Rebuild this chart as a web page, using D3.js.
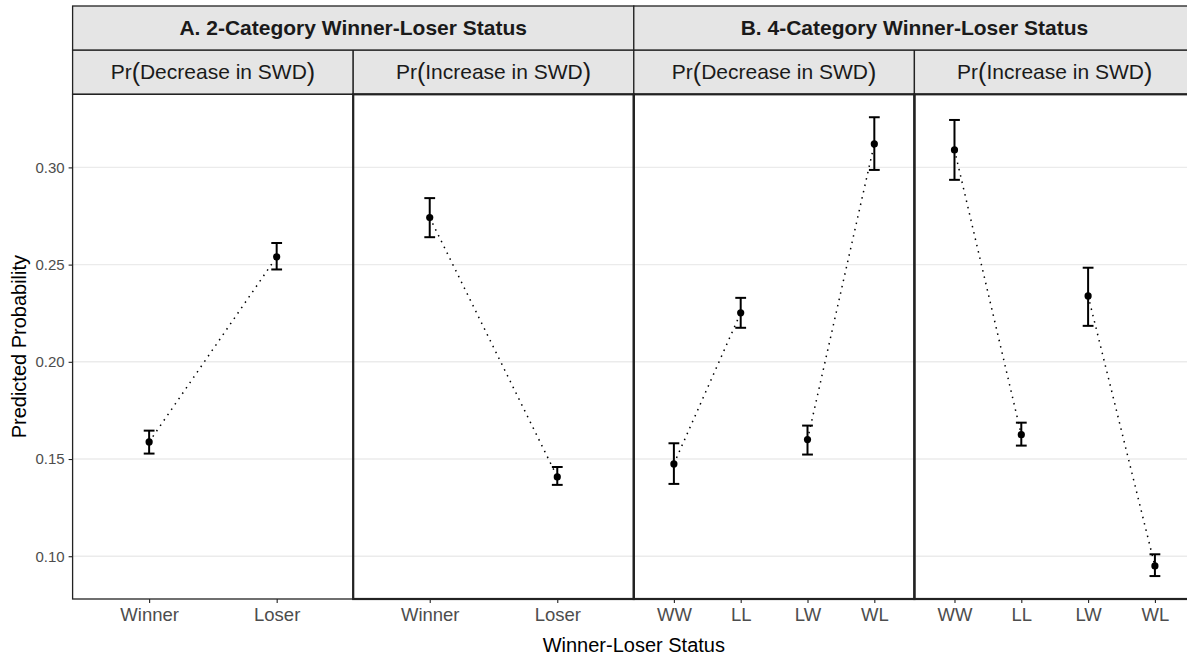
<!DOCTYPE html>
<html>
<head>
<meta charset="utf-8">
<script src="https://cdn.jsdelivr.net/npm/d3@7"></script>
<style>
  html, body { margin: 0; padding: 0; background: #fff; }
  svg { display: block; font-family: "Liberation Sans", Arial, Helvetica, sans-serif; }
</style>
</head>
<body>
<div id="host"><svg></svg></div>
<script>
const WIDTH = 1187;
const HEIGHT = 655;

const PANEL_LEFT = 72.6;
const PANEL_RIGHT = 1195;
const STRIP_TOP = 6;
const STRIP_MID = 50;
const PLOT_TOP = 94.3;
const PLOT_BOTTOM = 599;

const INK = "#222222";
const TEXT_GREY = "#4d4d4d";
const GRID = "#ebebeb";
const STRIP_FILL = "#e5e5e5";

// data
const PANELS = ["A-dec", "A-inc", "B-dec", "B-inc"];
const GROUPS = ["A. 2-Category Winner-Loser Status", "B. 4-Category Winner-Loser Status"];
const PANEL_GROUP = [0, 0, 1, 1];
const PANEL_LABELS = ["Decrease in SWD", "Increase in SWD", "Decrease in SWD", "Increase in SWD"];

const CATS_2 = ["Winner", "Loser"];
const CATS_4 = ["WW", "LL", "LW", "WL"];
const PANEL_CATS = [CATS_2, CATS_2, CATS_4, CATS_4];

const EST = [
  [0.1588, 0.2540],
  [0.2742, 0.1408],
  [0.1475, 0.2252, 0.1600, 0.3121],
  [0.3090, 0.1625, 0.2339, 0.0950],
];
const LOWER = [
  [0.1528, 0.2475],
  [0.2641, 0.1367],
  [0.1372, 0.2175, 0.1523, 0.2987],
  [0.2936, 0.1569, 0.2185, 0.0898],
];
const UPPER = [
  [0.1646, 0.2611],
  [0.2842, 0.1459],
  [0.1581, 0.2329, 0.1672, 0.3258],
  [0.3244, 0.1687, 0.2484, 0.1010],
];
// which categories are joined by a dotted line
const PAIRS_2 = [["Winner", "Loser"]];
const PAIRS_4 = [["WW", "LL"], ["LW", "WL"]];
const PANEL_PAIRS = [PAIRS_2, PAIRS_2, PAIRS_4, PAIRS_4];

const Y_TICKS = [0.10, 0.15, 0.20, 0.25, 0.30];

const svg = d3.select("#host svg").attr("width", WIDTH).attr("height", HEIGHT);

const panelX = d3.scaleBand().domain(PANELS).range([PANEL_LEFT, PANEL_RIGHT]).paddingInner(0);

const allLow = d3.min(LOWER.flat());
const allHigh = d3.max(UPPER.flat());
const pad = (allHigh - allLow) * 0.05;
const y = d3.scaleLinear().domain([allLow - pad, allHigh + pad]).range([PLOT_BOTTOM, PLOT_TOP]);

// gridlines
const gridG = svg.append("g");
PANELS.forEach((p) => {
  gridG.selectAll(null)
    .data(Y_TICKS)
    .join("line")
    .attr("x1", panelX(p))
    .attr("x2", panelX(p) + panelX.bandwidth())
    .attr("y1", (d) => y(d))
    .attr("y2", (d) => y(d))
    .attr("stroke", GRID)
    .attr("stroke-width", 1.4);
});

// panels
PANELS.forEach((p, pi) => {
  const x0 = panelX(p);
  const xs = d3.scalePoint()
    .domain(PANEL_CATS[pi])
    .range([x0, x0 + panelX.bandwidth()])
    .padding(0.6);

  const g = svg.append("g");
  const rows = PANEL_CATS[pi].map((c, i) => ({
    cat: c, est: EST[pi][i], lo: LOWER[pi][i], hi: UPPER[pi][i],
  }));
  const byCat = new Map(rows.map((r) => [r.cat, r]));

  const line = d3.line().x((d) => xs(d.cat)).y((d) => y(d.est));
  g.selectAll("path.link")
    .data(PANEL_PAIRS[pi].map((pr) => pr.map((c) => byCat.get(c))))
    .join("path")
    .attr("class", "link")
    .attr("d", line)
    .attr("fill", "none")
    .attr("stroke", "#000")
    .attr("stroke-width", 1.5)
    .attr("stroke-dasharray", "1.5,5");

  const CAP = 5.4;
  const bars = g.selectAll("g.bar").data(rows).join("g").attr("class", "bar");
  bars.append("line")
    .attr("x1", (d) => xs(d.cat)).attr("x2", (d) => xs(d.cat))
    .attr("y1", (d) => y(d.lo)).attr("y2", (d) => y(d.hi));
  bars.append("line")
    .attr("x1", (d) => xs(d.cat) - CAP).attr("x2", (d) => xs(d.cat) + CAP)
    .attr("y1", (d) => y(d.lo)).attr("y2", (d) => y(d.lo));
  bars.append("line")
    .attr("x1", (d) => xs(d.cat) - CAP).attr("x2", (d) => xs(d.cat) + CAP)
    .attr("y1", (d) => y(d.hi)).attr("y2", (d) => y(d.hi));
  bars.selectAll("line").attr("stroke", "#000").attr("stroke-width", 2);
  bars.append("circle")
    .attr("cx", (d) => xs(d.cat))
    .attr("cy", (d) => y(d.est))
    .attr("r", 3.6)
    .attr("fill", "#000");

  // x axis for this panel
  const ax = svg.append("g")
    .attr("transform", `translate(0,${PLOT_BOTTOM})`)
    .call(d3.axisBottom(xs).tickSize(4).tickPadding(5));
  ax.select(".domain").remove();
  ax.selectAll(".tick line").attr("stroke", INK).attr("stroke-width", 1.1);
  ax.selectAll(".tick text")
    .attr("fill", TEXT_GREY)
    .attr("font-size", 18.5)
    .attr("font-family", null);

  // strip 2
  const s = svg.append("g");
  s.append("rect")
    .attr("x", x0).attr("y", STRIP_MID)
    .attr("width", panelX.bandwidth()).attr("height", PLOT_TOP - STRIP_MID)
    .attr("fill", STRIP_FILL).attr("stroke", INK).attr("stroke-width", 1.3);
  const t = s.append("text")
    .attr("x", x0 + panelX.bandwidth() / 2)
    .attr("y", (STRIP_MID + PLOT_TOP) / 2 + 7)
    .attr("text-anchor", "middle")
    .attr("font-size", 21)
    .attr("fill", "#1a1a1a");
  t.append("tspan").text("Pr");
  t.append("tspan").attr("font-size", 25).attr("dy", 1.5).text("(");
  t.append("tspan").attr("dy", -1.5).text(PANEL_LABELS[pi]);
  t.append("tspan").attr("font-size", 25).attr("dy", 1.5).text(")");
});

// top strips spanning groups
GROUPS.forEach((label, gi) => {
  const ps = PANELS.filter((p, i) => PANEL_GROUP[i] === gi);
  const x0 = panelX(ps[0]);
  const x1 = panelX(ps[ps.length - 1]) + panelX.bandwidth();
  svg.append("rect")
    .attr("x", x0).attr("y", STRIP_TOP)
    .attr("width", x1 - x0).attr("height", STRIP_MID - STRIP_TOP)
    .attr("fill", STRIP_FILL).attr("stroke", INK).attr("stroke-width", 1.3);
  svg.append("text")
    .attr("x", (x0 + x1) / 2)
    .attr("y", (STRIP_TOP + STRIP_MID) / 2 + 7)
    .attr("text-anchor", "middle")
    .attr("font-size", 21)
    .attr("font-weight", "bold")
    .attr("fill", "#1a1a1a")
    .text(label);
});

// panel borders
PANELS.forEach((p, i) => {
  svg.append("rect")
    .attr("x", panelX(p)).attr("y", PLOT_TOP)
    .attr("width", panelX.bandwidth()).attr("height", PLOT_BOTTOM - PLOT_TOP)
    .attr("fill", "none")
    .attr("stroke", INK)
    .attr("stroke-width", i === 0 ? 1.3 : 2.2);
});

// y axis
const yAx = svg.append("g")
  .attr("transform", `translate(${PANEL_LEFT},0)`)
  .call(d3.axisLeft(y).tickValues(Y_TICKS).tickFormat(d3.format(".2f")).tickSize(4).tickPadding(4));
yAx.select(".domain").remove();
yAx.selectAll(".tick line").attr("stroke", INK).attr("stroke-width", 1.1);
yAx.selectAll(".tick text")
  .attr("fill", TEXT_GREY)
  .attr("font-size", 15)
  .attr("font-family", null);

// axis titles
svg.append("text")
  .attr("x", (PANEL_LEFT + PANEL_RIGHT) / 2)
  .attr("y", 652)
  .attr("text-anchor", "middle")
  .attr("font-size", 20)
  .attr("fill", "#000")
  .text("Winner-Loser Status");

svg.append("text")
  .attr("transform", `translate(26,${(PLOT_TOP + PLOT_BOTTOM) / 2}) rotate(-90)`)
  .attr("text-anchor", "middle")
  .attr("font-size", 20)
  .attr("fill", "#000")
  .text("Predicted Probability");
</script>
</body>
</html>
